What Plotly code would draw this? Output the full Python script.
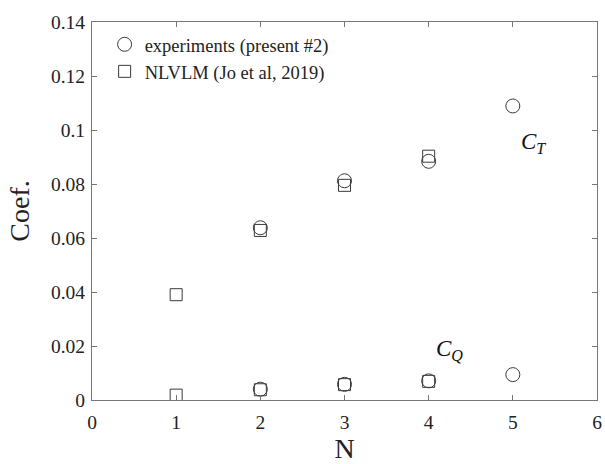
import plotly.graph_objects as go

# Data
n_exp = [2, 3, 4, 5]
ct_exp = [0.0638, 0.0812, 0.0884, 0.1089]
cq_exp = [0.0040, 0.0058, 0.0071, 0.0094]

n_vlm = [1, 2, 3, 4]
ct_vlm = [0.0390, 0.0628, 0.0795, 0.0903]
cq_vlm = [0.0018, 0.0038, 0.0057, 0.0069]

x_ticks = [0, 1, 2, 3, 4, 5, 6]
y_ticks = [0, 0.02, 0.04, 0.06, 0.08, 0.1, 0.12, 0.14]
y_tick_text = ["0", "0.02", "0.04", "0.06", "0.08", "0.1", "0.12", "0.14"]

FONT = "Liberation Serif"
mcol = "#3a3a3a"

fig = go.Figure()
fig.add_trace(go.Scatter(
    x=n_exp + n_exp, y=ct_exp + cq_exp, mode="markers",
    name="experiments (present #2)",
    marker=dict(symbol="circle-open", size=14, color=mcol, line=dict(width=1)),
))
fig.add_trace(go.Scatter(
    x=n_vlm + n_vlm, y=ct_vlm + cq_vlm, mode="markers",
    name="NLVLM (Jo et al, 2019)",
    marker=dict(symbol="square-open", size=12, color=mcol, line=dict(width=1)),
))

fig.add_annotation(x=5.24, y=0.0952, text="<i>C</i><sub><i>T</i></sub>",
                   showarrow=False, font=dict(family=FONT, size=23, color="#111"))
fig.add_annotation(x=4.25, y=0.0185, text="<i>C</i><sub><i>Q</i></sub>",
                   showarrow=False, font=dict(family=FONT, size=23, color="#111"))

axis_common = dict(
    showgrid=False, zeroline=False, showline=True, linecolor="#777", linewidth=1,
    mirror="ticks", ticks="inside", ticklen=5, tickcolor="#777",
    tickfont=dict(family=FONT, size=19.5, color="#222"),
    automargin=False,
)
fig.update_xaxes(range=[0, 6], tickvals=x_ticks, ticktext=[str(v) for v in x_ticks],
                 ticklabelstandoff=5,
                 title=dict(text="N", font=dict(family=FONT, size=28, color="#222"), standoff=6),
                 **axis_common)
fig.update_yaxes(range=[0, 0.14], tickvals=y_ticks, ticktext=y_tick_text,
                 ticklabelstandoff=2,
                 title=dict(text="Coef.", font=dict(family=FONT, size=28, color="#222"), standoff=13),
                 **axis_common)

fig.update_layout(
    width=605, height=464,
    margin=dict(l=92, r=8, t=22, b=64),
    paper_bgcolor="white", plot_bgcolor="white",
    font=dict(family=FONT, color="#222"),
    legend=dict(x=0.025, y=0.99, xanchor="left", yanchor="top",
                bgcolor="rgba(0,0,0,0)", font=dict(family=FONT, size=18.5, color="#222"),
                tracegroupgap=0, itemwidth=30),
    showlegend=True,
)

fig.write_html("out.html")
